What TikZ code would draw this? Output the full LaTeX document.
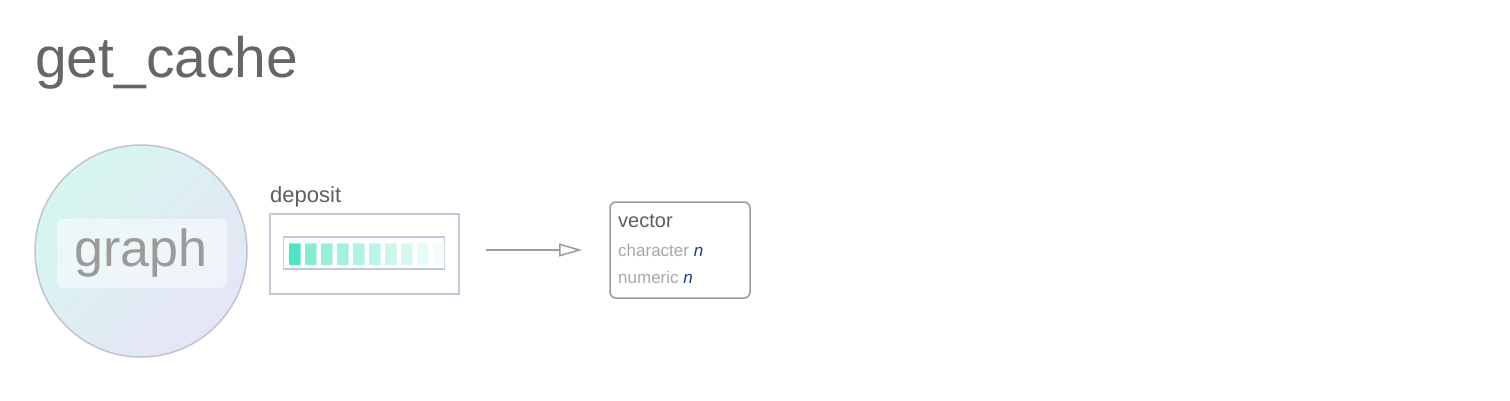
\documentclass[tikz,border=0pt]{standalone}
\usepackage{fontspec}
\setmainfont{Liberation Sans}
\usetikzlibrary{arrows.meta}
\definecolor{mint}{HTML}{50E3C2}
\definecolor{circA}{HTML}{D6F6EE}
\definecolor{circB}{HTML}{E6E5F6}
\definecolor{circEdge}{HTML}{BFC4D4}
\definecolor{boxEdge}{HTML}{C6C7D8}
\definecolor{txtTitle}{HTML}{666666}
\definecolor{txtDark}{HTML}{5E5E5E}
\definecolor{txtGray}{HTML}{9B9B9B}
\definecolor{txtLight}{HTML}{A8A8A8}
\definecolor{nBlue}{HTML}{1F3C88}
\tikzset{
  cell/.style={fill=mint, draw=white, draw opacity=0.4, line width=0.8pt, minimum width=12pt, minimum height=22pt, inner sep=0pt},
  typebox/.style={draw=txtGray, line width=1.5pt, rounded corners=6pt},
  conn/.style={draw=txtGray, line width=1.5pt, -{Triangle[open, length=23pt, width=13pt, line width=1.5pt]}}
}
\begin{document}
\begin{tikzpicture}[x=1pt,y=-1pt]
\useasboundingbox (0,0) rectangle (1510,400);
\fill[white] (0,0) rectangle (1510,400);
% title
\node[anchor=base west, inner sep=0pt, text=txtTitle, font=\fontsize{57}{60}\selectfont] (title) at (35,77) {get\_cache};
% graph circle
\shade[left color=circA, right color=circB, shading angle=45] (141,251) circle (106);
\draw[circEdge, line width=1.5pt] (141,251) circle (106);
\coordinate (g) at (141,251);
\node[fill=white, fill opacity=0.5, rounded corners=6pt, minimum width=170pt, minimum height=69pt] (graphbox) at (142,253.5) {};
\node[anchor=base, inner sep=0pt, text=txtGray, font=\fontsize{52}{56}\selectfont] (graph) at (141,266) {graph};
% deposit
\node[anchor=base west, inner sep=0pt, text=txtDark, font=\fontsize{22}{26}\selectfont] (deplabel) at (270,202) {deposit};
\node[draw=boxEdge, line width=1.5pt, minimum width=189pt, minimum height=80pt, inner sep=0pt] (depbox) at (364.5,254) {};
\node[draw=boxEdge, line width=1.5pt, minimum width=161pt, minimum height=32pt, inner sep=0pt] (bar) at (364,253) {};
\foreach \i/\op in {0/1,1/0.68,2/0.58,3/0.52,4/0.45,5/0.38,6/0.3,7/0.22,8/0.13,9/0.06} {
  \node[cell, fill opacity=\op] (c\i) at (294.5+16*\i,254) {};
}
% arrow
\coordinate (a1) at (486,250);
\coordinate (a2) at (582,250);
\draw[conn] (a1) -- (a2);
% vector box
\draw[typebox] (610,202) rectangle (750,298);
\node[anchor=base west, inner sep=0pt, text=txtDark, font=\fontsize{20}{24}\selectfont] (vec) at (618,227) {vector};
\node[anchor=base west, inner sep=0pt, text=txtLight, font=\fontsize{17}{20}\selectfont] (chr) at (618,256) {character \textcolor{nBlue}{\textit{n}}};
\node[anchor=base west, inner sep=0pt, text=txtLight, font=\fontsize{17}{20}\selectfont] (num) at (618,283) {numeric \textcolor{nBlue}{\textit{n}}};
\end{tikzpicture}
\end{document}
